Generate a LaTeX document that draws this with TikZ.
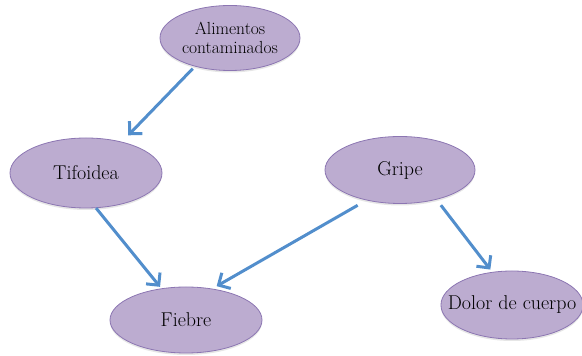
\documentclass[tikz,border=0pt]{standalone}
\usepackage{fontspec}
\usepackage{tikz}
\usetikzlibrary{shapes.geometric, arrows.meta, shadows}
\definecolor{nodefill}{RGB}{188,172,208}
\definecolor{nodeline}{RGB}{140,118,178}
\definecolor{arrowblue}{RGB}{82,142,204}

\begin{document}
\begin{tikzpicture}[
    x=1pt, y=1pt,
    cause/.style={ellipse, fill=nodefill, draw=nodeline, line width=0.8pt,
        inner sep=0pt, align=center, font=\fontsize{20}{21}\selectfont,
        drop shadow={opacity=0.2, shadow xshift=0pt, shadow yshift=-2pt}},
    link/.style={-{Straight Barb[length=9pt, width=18pt]}, arrowblue, line width=3pt}
]
    \useasboundingbox (0,0) rectangle (582,356);

    % nodes
    \node[cause, minimum width=140pt, minimum height=65pt,
        font=\fontsize{17.5}{19}\selectfont] (alimentos) at (230,318) {Alimentos\\contaminados};
    \node[cause, minimum width=152pt, minimum height=70pt] (tifoidea) at (86,183) {Tifoidea};
    \node[cause, minimum width=150pt, minimum height=67pt] (gripe) at (400,186) {Gripe};
    \node[cause, minimum width=152pt, minimum height=66pt] (fiebre) at (186,36) {Fiebre};
    % text wider than the ellipse here
    \node[cause, minimum width=142pt, minimum height=68pt, inner xsep=-14pt] (dolor) at (512,51) {Dolor de cuerpo};

    % arrows
    \draw[link, shorten <=3pt, shorten >=9pt] (alimentos.-141) -- (tifoidea.41);
    \draw[link, shorten >=2pt] (tifoidea.-74) -- (fiebre.128);
    \draw[link, shorten <=10pt, shorten >=5pt] (gripe.-138) -- (fiebre.50);
    \draw[link, shorten <=7pt, shorten >=3pt] (gripe.-39) -- (dolor.121);
\end{tikzpicture}
\end{document}
